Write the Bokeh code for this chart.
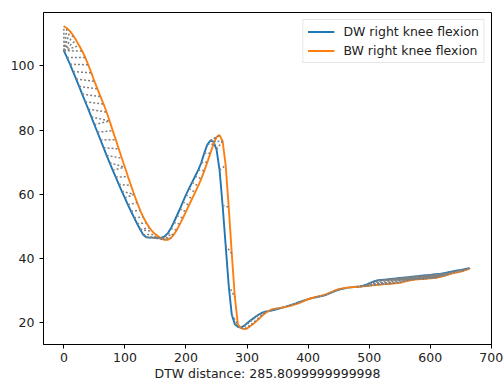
import numpy as np
from bokeh.plotting import figure
from bokeh.models import FixedTicker, Range1d
from bokeh.embed import file_html
from bokeh.resources import INLINE

# sample index (every 5th sample of the original series)
sample_x = list(range(0, 670, 5))

dw_knee = [104.7, 102.6, 100.5, 98.2, 95.9, 93.6, 91.2, 88.8, 86.5, 84.1,
           81.7, 79.3, 76.9, 74.5, 72.1, 69.8, 67.5, 65.3, 63.1, 60.9,
           58.8, 56.7, 54.7, 52.7, 50.8, 49.0, 47.4, 46.6, 46.5, 46.5,
           46.4, 46.4, 46.5, 46.9, 47.8, 49.3, 51.2, 53.3, 55.4, 57.6,
           59.8, 61.8, 63.7, 65.6, 67.5, 69.8, 72.8, 75.5, 76.7, 76.4,
           74.0, 67.5, 56.5, 44.0, 31.5, 22.5, 19.5, 18.7, 18.5, 19.0,
           19.8, 20.6, 21.3, 22.0, 22.6, 23.1, 23.4, 23.6, 23.8, 24.0,
           24.2, 24.5, 24.8, 25.1, 25.4, 25.7, 26.0, 26.4, 26.7, 27.0,
           27.3, 27.6, 27.8, 28.0, 28.2, 28.4, 28.7, 29.1, 29.5, 29.9,
           30.2, 30.5, 30.7, 30.9, 31.0, 31.1, 31.2, 31.3, 31.5, 31.8,
           32.2, 32.6, 33.0, 33.2, 33.3, 33.4, 33.5, 33.6, 33.7, 33.8,
           33.9, 34.0, 34.1, 34.2, 34.3, 34.4, 34.5, 34.6, 34.7, 34.8,
           34.9, 35.0, 35.1, 35.2, 35.3, 35.5, 35.7, 35.9, 36.1, 36.3,
           36.4, 36.6, 36.8, 37.0]

bw_knee = [112.3, 111.7, 110.8, 109.5, 108.0, 106.3, 104.6, 102.6, 100.3, 97.8,
           95.2, 92.8, 90.4, 88.1, 85.6, 82.8, 79.8, 77.0, 74.1, 71.2,
           68.4, 65.5, 62.7, 60.0, 57.4, 55.0, 52.9, 51.1, 49.6, 48.4,
           47.5, 46.8, 46.2, 45.8, 45.8, 46.3, 47.4, 48.9, 50.7, 52.6,
           54.6, 56.6, 58.6, 60.6, 62.6, 64.8, 67.3, 70.0, 72.8, 75.6,
           77.8, 78.4, 76.5, 69.0, 56.0, 41.5, 28.0, 19.5, 18.3, 18.0,
           18.2, 18.9, 19.6, 20.4, 21.3, 22.2, 23.0, 23.6, 24.1, 24.3,
           24.5, 24.6, 24.8, 25.0, 25.2, 25.5, 25.8, 26.1, 26.5, 26.9,
           27.3, 27.6, 27.9, 28.1, 28.3, 28.6, 28.9, 29.3, 29.7, 30.1,
           30.4, 30.6, 30.8, 30.9, 31.0, 31.1, 31.2, 31.2, 31.3, 31.4,
           31.5, 31.6, 31.7, 31.8, 31.9, 32.0, 32.0, 32.1, 32.2, 32.3,
           32.4, 32.6, 32.9, 33.1, 33.3, 33.4, 33.5, 33.6, 33.6, 33.7,
           33.8, 33.9, 34.0, 34.2, 34.4, 34.7, 35.0, 35.3, 35.5, 35.7,
           35.9, 36.2, 36.5, 36.9]

x_ticks = [0, 100, 200, 300, 400, 500, 600, 700]
y_ticks = [20, 40, 60, 80, 100]
x_label = "DTW distance: 285.8099999999998"
label_dw = "DW right knee flexion"
label_bw = "BW right knee flexion"

# DTW warping path between the two series
a = np.array(dw_knee)
b = np.array(bw_knee)
n, m = len(a), len(b)
D = np.full((n + 1, m + 1), np.inf)
D[0, 0] = 0.0
for i in range(1, n + 1):
    for j in range(1, m + 1):
        c = abs(a[i - 1] - b[j - 1])
        D[i, j] = c + min(D[i - 1, j], D[i, j - 1], D[i - 1, j - 1])
i, j = n, m
path = []
while i > 0 and j > 0:
    path.append((i - 1, j - 1))
    k = int(np.argmin([D[i - 1, j - 1], D[i - 1, j], D[i, j - 1]]))
    if k == 0:
        i -= 1; j -= 1
    elif k == 1:
        i -= 1
    else:
        j -= 1
path.reverse()
xs = [[sample_x[pi], sample_x[pj]] for pi, pj in path]
ys = [[dw_knee[pi], bw_knee[pj]] for pi, pj in path]

p = figure(width=503, height=385, output_backend="svg", toolbar_location=None,
           x_range=Range1d(-33.35, 700.35), y_range=Range1d(13.2, 116.6),
           min_border_left=43, min_border_right=12, min_border_top=12,
           min_border_bottom=41)

p.line(sample_x, dw_knee, color="#1f77b4", line_width=1.9, legend_label=label_dw)
p.line(sample_x, bw_knee, color="#ff7f0e", line_width=1.9, legend_label=label_bw)
p.multi_line(xs, ys, line_color="gray", line_width=1.5, line_dash="2 2")

p.xgrid.visible = False
p.ygrid.visible = False
p.outline_line_color = "black"
p.outline_line_width = 1
p.outline_line_alpha = 1

p.xaxis.ticker = FixedTicker(ticks=x_ticks)
p.yaxis.ticker = FixedTicker(ticks=y_ticks)
for ax in (p.xaxis, p.yaxis):
    ax.major_tick_in = 0
    ax.major_tick_out = 4
    ax.minor_tick_line_color = None
    ax.axis_line_color = "black"
    ax.major_tick_line_color = "black"
    ax.major_label_text_font = "DejaVu Sans"
    ax.major_label_text_font_size = "12.5px"
    ax.major_label_text_color = "#222222"
p.xaxis.major_label_standoff = 4
p.yaxis.major_label_standoff = 5
p.xaxis.axis_label = x_label
p.xaxis.axis_label_text_font = "DejaVu Sans"
p.xaxis.axis_label_text_font_size = "12.5px"
p.xaxis.axis_label_text_font_style = "normal"
p.xaxis.axis_label_text_color = "#222222"
p.xaxis.axis_label_standoff = 1

lg = p.legend[0]
lg.location = "top_right"
lg.margin = 7
lg.padding = 4
lg.spacing = 4
lg.glyph_width = 27
lg.glyph_height = 15
lg.label_height = 15
lg.label_standoff = 9
lg.label_text_font = "DejaVu Sans"
lg.label_text_font_size = "12.5px"
lg.label_text_color = "#222222"
lg.border_line_color = "#cccccc"
lg.border_line_width = 1
lg.background_fill_alpha = 0.8

open("out.html", "w").write(file_html(p, INLINE))
